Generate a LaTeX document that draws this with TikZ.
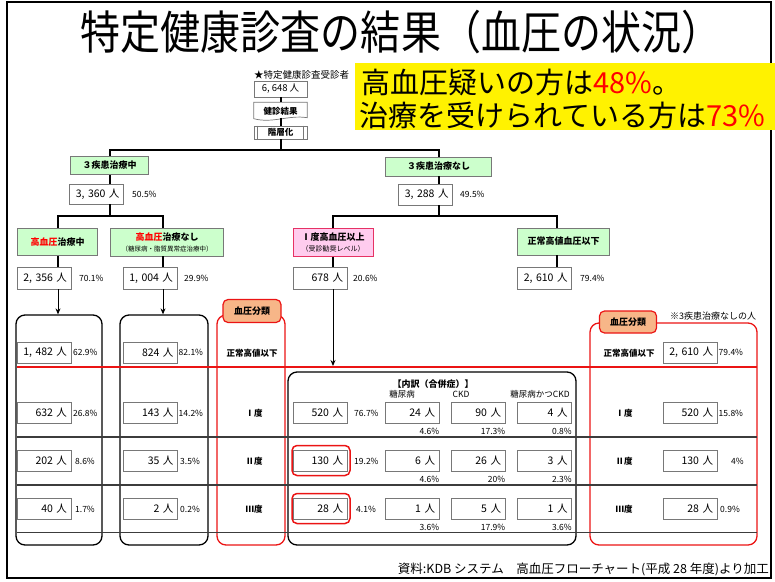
\documentclass[tikz,border=0pt]{standalone}
\usepackage{fontspec}
\setmainfont{Noto Sans CJK JP}
\usepackage{graphicx}
\usetikzlibrary{arrows.meta,calc}
\definecolor{grnfill}{RGB}{204,255,204}
\definecolor{pinkfill}{RGB}{255,204,238}
\definecolor{pinkline}{RGB}{230,50,100}
\definecolor{orangefill}{RGB}{247,182,136}
\definecolor{boxline}{RGB}{120,120,120}
\definecolor{rowline}{RGB}{60,60,60}
\definecolor{hired}{RGB}{235,20,20}
\begin{document}
\begin{tikzpicture}[x=1pt,y=-1pt,
  tree/.style={line width=2pt,black},
  arr/.style={line width=0.9pt,black,-{Stealth[length=6pt,width=5pt]}},
  valbox/.style={draw=boxline,fill=white,line width=0.7pt,minimum height=21pt,minimum width=54pt,text width=46pt,align=right,inner xsep=4pt,inner ysep=0pt,font=\fontsize{10.5}{12}\selectfont},
  smallbox/.style={draw=boxline,fill=white,line width=0.7pt,minimum width=53pt,align=center,inner sep=0pt,font=\fontsize{9.5}{11}\selectfont},
  pct/.style={anchor=west,inner sep=0pt,font=\fontsize{8.5}{10}\selectfont},
  spct/.style={anchor=east,inner sep=0pt,font=\fontsize{8.5}{10}\selectfont},
  grnbox/.style={draw=boxline,fill=grnfill,line width=0.7pt,font=\bfseries\fontsize{9}{12}\selectfont,align=center,inner sep=0pt},
  pinkbox/.style={draw=pinkline,fill=pinkfill,line width=1pt,font=\bfseries\fontsize{9}{12}\selectfont,align=center,inner sep=0pt},
  lbl/.style={font=\bfseries\fontsize{8.5}{10}\selectfont,inner sep=0pt},
  hdr/.style={font=\fontsize{8.5}{10}\selectfont,inner sep=0pt},
  blkround/.style={draw=black,line width=1.3pt,rounded corners=9pt},
  redround/.style={draw=hired,line width=1.3pt,rounded corners=9pt},
  orangetag/.style={draw=hired,fill=orangefill,line width=1.2pt,rounded corners=5pt,font=\bfseries\fontsize{9}{11}\selectfont,inner sep=0pt},
  redhl/.style={draw=hired,line width=1.5pt,rounded corners=5pt}
]
\useasboundingbox (0,0) rectangle (775,581);
% outer frame
\draw[line width=2pt] (7,2) rectangle (771,578);
% title
\node (title) at (401,32) {\scalebox{0.87}[1]{\fontsize{46}{50}\selectfont 特定健康診査の結果（血圧の状況）}};
% yellow box
\node (ybox) [fill=yellow,anchor=north west,minimum width=420pt,minimum height=67pt,inner sep=0pt] at (355,63) {};
\node (y1) [anchor=west,inner sep=0pt,font=\fontsize{29}{32}\selectfont] at (361,82) {高血圧疑いの方は\textcolor{red}{48\%}。};
\node (y2) [anchor=west,inner sep=0pt,font=\fontsize{29}{32}\selectfont] at (359,115) {治療を受けられている方は\textcolor{red}{73\%}};
% top flow
\node (star) [anchor=west,inner sep=0pt,font=\fontsize{9.5}{11}\selectfont] at (254,75) {★特定健康診査受診者};
\node (n0) [smallbox,minimum height=16pt] at (280.5,89) {6, 648 人};
\node (n1) [minimum width=53pt,minimum height=17pt,inner sep=0pt,font=\bfseries\fontsize{8.5}{10}\selectfont] at (280.5,111) {健診結果};
\draw[boxline,line width=0.7pt,fill=white] (n1.north west) -- (n1.north east) -- ($(n1.south east)+(0,-2)$) .. controls ($(n1.south)+(8,-5)$) and ($(n1.south)+(-8,4)$) .. ($(n1.south west)+(0,-1)$) -- cycle;
\node at (n1.center) [inner sep=0pt,font=\bfseries\fontsize{8.5}{10}\selectfont] {健診結果};
\node (n2) [smallbox,minimum height=13pt,font=\bfseries\fontsize{8.5}{10}\selectfont] at (280.5,132.5) {階層化};
\draw[boxline,line width=0.6pt] ($(n2.north west)+(4,0)$) -- ($(n2.south west)+(4,0)$);
\draw[boxline,line width=0.6pt] ($(n2.north east)+(-4,0)$) -- ($(n2.south east)+(-4,0)$);
\coordinate (j0) at (280.5,150);
\draw[tree] (n0.south) -- (n1.north);
\draw[tree] ($(n1.south)+(0,-2)$) -- (n2.north);
\draw[tree] (n2.south) -- (j0);
% level 1
\node (L1) [grnbox,minimum width=78pt,minimum height=18pt] at (109.5,165.5) {３疾患治療中};
\node (R1) [grnbox,minimum width=106pt,minimum height=19pt] at (438.5,166.5) {３疾患治療なし};
\draw[tree] (L1.north) |- (j0) -| (R1.north);
\node (L1n) [valbox,minimum height=20pt] at (96.5,194) {3, 360 人};
\node [pct] at (132,194) {50.5\%};
\node (R1n) [valbox] at (425.5,194.5) {3, 288 人};
\node [pct] at (460,194.5) {49.5\%};
\draw[tree] (L1.south) -- (L1.south |- L1n.north);
\draw[tree] (R1.south) -- (R1.south |- R1n.north);
\coordinate (jL) at (109.5,216);
\coordinate (jR) at (438.5,216);
\draw[tree] (L1.south |- L1n.south) -- (jL);
\draw[tree] (R1.south |- R1n.south) -- (jR);
% level 2
\node (LL) [grnbox,minimum width=80pt,minimum height=27pt] at (57.5,242) {\textcolor{red}{高血圧}治療中};
\node (LR) [grnbox,minimum width=113pt,minimum height=28pt] at (167,242) {\textcolor{red}{高血圧}治療なし\\[-1pt]{\mdseries\fontsize{6.5}{8}\selectfont （糖尿病・脂質異常症治療中）}};
\node (RL) [pinkbox,minimum width=80pt,minimum height=28pt] at (333,242) {Ⅰ度高血圧以上\\[-1pt]{\mdseries\fontsize{7}{8}\selectfont （受診勧奨レベル）}};
\node (RR) [grnbox,minimum width=92pt,minimum height=27pt] at (563.5,241.5) {正常高値血圧以下};
\coordinate (xLL) at (58,0);
\coordinate (xLR) at (163,0);
\coordinate (xRR) at (557,0);
\draw[tree] (LL.north -| xLL) |- (jL) -| (LR.north -| xLR);
\draw[tree] (RL.north) |- (jR) -| (RR.north -| xRR);
\node (LLn) [valbox,minimum height=22pt] at (44,278) {2, 356 人};
\node [pct] at (79,278) {70.1\%};
\node (LRn) [valbox,minimum height=22pt] at (150,278) {1, 004 人};
\node [pct] at (184,278) {29.9\%};
\node (RLn) [valbox,minimum height=22pt] at (320,278) {678 人};
\node [pct] at (353,278) {20.6\%};
\node (RRn) [valbox,minimum height=22pt] at (544.5,278) {2, 610 人};
\node [pct] at (580,278) {79.4\%};
\draw[tree] (LL.south -| xLL) -- (LLn.north -| xLL);
\draw[tree] (LR.south -| xLR) -- (LRn.north -| xLR);
\draw[tree] (RL.south) -- (RL.south |- RLn.north);
\draw[tree] (RR.south -| xRR) -- (RRn.north -| xRR);
% bottom section frames
\node (rb1) [blkround,minimum width=86pt,minimum height=230pt] at (59,430) {};
\node (rb2) [blkround,minimum width=88pt,minimum height=230pt] at (164,430) {};
\node (rbR) [redround,minimum width=68pt,minimum height=230pt] at (251,430) {};
\node (rbM) [blkround,minimum width=288pt,minimum height=173pt] at (432,458.5) {};
\node (rbRR) [redround,minimum width=167pt,minimum height=222pt] at (673.5,434) {};
\node (tagL) [orangetag,minimum width=58pt,minimum height=23pt] at (252,311) {血圧分類};
\node (tagR) [orangetag,minimum width=57pt,minimum height=22pt] at (628,322) {血圧分類};
\node (note) [inner sep=0pt,font=\fontsize{9}{11}\selectfont] at (713,316) {※3疾患治療なしの人};
\coordinate (aM) at (333,366);
\draw[arr] (LLn.south -| xLL) -- (rb1.north -| xLL);
\draw[arr] (LRn.south -| xLR) -- (rb2.north -| xLR);
\draw[arr] (RLn.south -| RL.south) -- (aM);
% row lines
\draw[rowline,line width=1.3pt] (17,437) -- (757,437);
\draw[rowline,line width=1.3pt] (17,485) -- (757,485);
\draw[rowline,line width=1.3pt] (17,532.5) -- (757,532.5);
\draw[hired,line width=2.2pt] (17,367) -- (757,367);
% row 0
\node (a0) [valbox] at (44,352.5) {1, 482 人};
\node [pct] at (73,352.5) {62.9\%};
\node (b0) [valbox] at (150.5,352.5) {824 人};
\node [pct] at (178.5,352.5) {82.1\%};
\node (c0) [lbl] at (252,353) {正常高値以下};
\node (e0l) [lbl] at (629,353) {正常高値以下};
\node (e0) [valbox] at (690,352.5) {2, 610 人};
\node [pct] at (718.5,352.5) {79.4\%};
% headers middle
\node (hdr0) [font=\bfseries\fontsize{9}{11}\selectfont,inner sep=0pt] at (433,384) {【内訳（合併症）】};
\node (h1) [hdr] at (402,394) {糖尿病};
\node (h2) [hdr] at (461,394) {CKD};
\node (h3) [hdr] at (540,394) {糖尿病かつCKD};
% row 1
\node (a1) [valbox] at (44,413) {632 人};
\node [pct] at (73,413) {26.8\%};
\node (b1) [valbox] at (150.5,413) {143 人};
\node [pct] at (178.5,413) {14.2\%};
\node (c1) [lbl] at (254,413) {Ⅰ度};
\node (m1) [valbox] at (320,413) {520 人};
\node [pct] at (354,413) {76.7\%};
\node (s11) [valbox] at (412,413) {24 人};
\node [spct] at ($(s11.south east)+(0,8)$) {4.6\%};
\node (s12) [valbox] at (478,413) {90 人};
\node [spct] at ($(s12.south east)+(0,8)$) {17.3\%};
\node (s13) [valbox] at (544.5,413) {4 人};
\node [spct] at ($(s13.south east)+(0,8)$) {0.8\%};
\node (e1l) [lbl] at (624,413) {Ⅰ度};
\node (e1) [valbox] at (690,413) {520 人};
\node [pct] at (718.5,413) {15.8\%};
% row 2
\node (a2) [valbox] at (44,461) {202 人};
\node [pct] at (75,461) {8.6\%};
\node (b2) [valbox] at (150.5,461) {35 人};
\node [pct] at (180,461) {3.5\%};
\node (c2) [lbl] at (254,461) {Ⅱ度};
\node (m2) [valbox] at (320,461) {130 人};
\node [pct] at (354,461) {19.2\%};
\node (s21) [valbox] at (412,461) {6 人};
\node [spct] at ($(s21.south east)+(0,8)$) {4.6\%};
\node (s22) [valbox] at (478,461) {26 人};
\node [spct] at ($(s22.south east)+(0,8)$) {20\%};
\node (s23) [valbox] at (544.5,461) {3 人};
\node [spct] at ($(s23.south east)+(0,8)$) {2.3\%};
\node (e2l) [lbl] at (624,461) {Ⅱ度};
\node (e2) [valbox] at (690,461) {130 人};
\node [pct] at (731,461) {4\%};
% row 3
\node (a3) [valbox] at (44,509) {40 人};
\node [pct] at (75,509) {1.7\%};
\node (b3) [valbox] at (150.5,509) {2 人};
\node [pct] at (180,509) {0.2\%};
\node (c3) [lbl] at (254,509) {Ⅲ度};
\node (m3) [valbox] at (320,509) {28 人};
\node [pct] at (356,509) {4.1\%};
\node (s31) [valbox] at (412,509) {1 人};
\node [spct] at ($(s31.south east)+(0,8)$) {3.6\%};
\node (s32) [valbox] at (478,509) {5 人};
\node [spct] at ($(s32.south east)+(0,8)$) {17.9\%};
\node (s33) [valbox] at (544.5,509) {1 人};
\node [spct] at ($(s33.south east)+(0,8)$) {3.6\%};
\node (e3l) [lbl] at (624,509) {Ⅲ度};
\node (e3) [valbox] at (690,509) {28 人};
\node [pct] at (720,509) {0.9\%};
% red highlights
\node (hl2) [redhl,minimum width=58pt,minimum height=30pt] at (321,460.5) {};
\node (hl3) [redhl,minimum width=58pt,minimum height=30pt] at (321,508.5) {};
% source
\node (src) [anchor=east,inner sep=0pt,font=\fontsize{12.5}{14}\selectfont] at (769,569) {資料:KDB システム\quad 高血圧フローチャート(平成 28 年度)より加工};
\end{tikzpicture}
\end{document}
